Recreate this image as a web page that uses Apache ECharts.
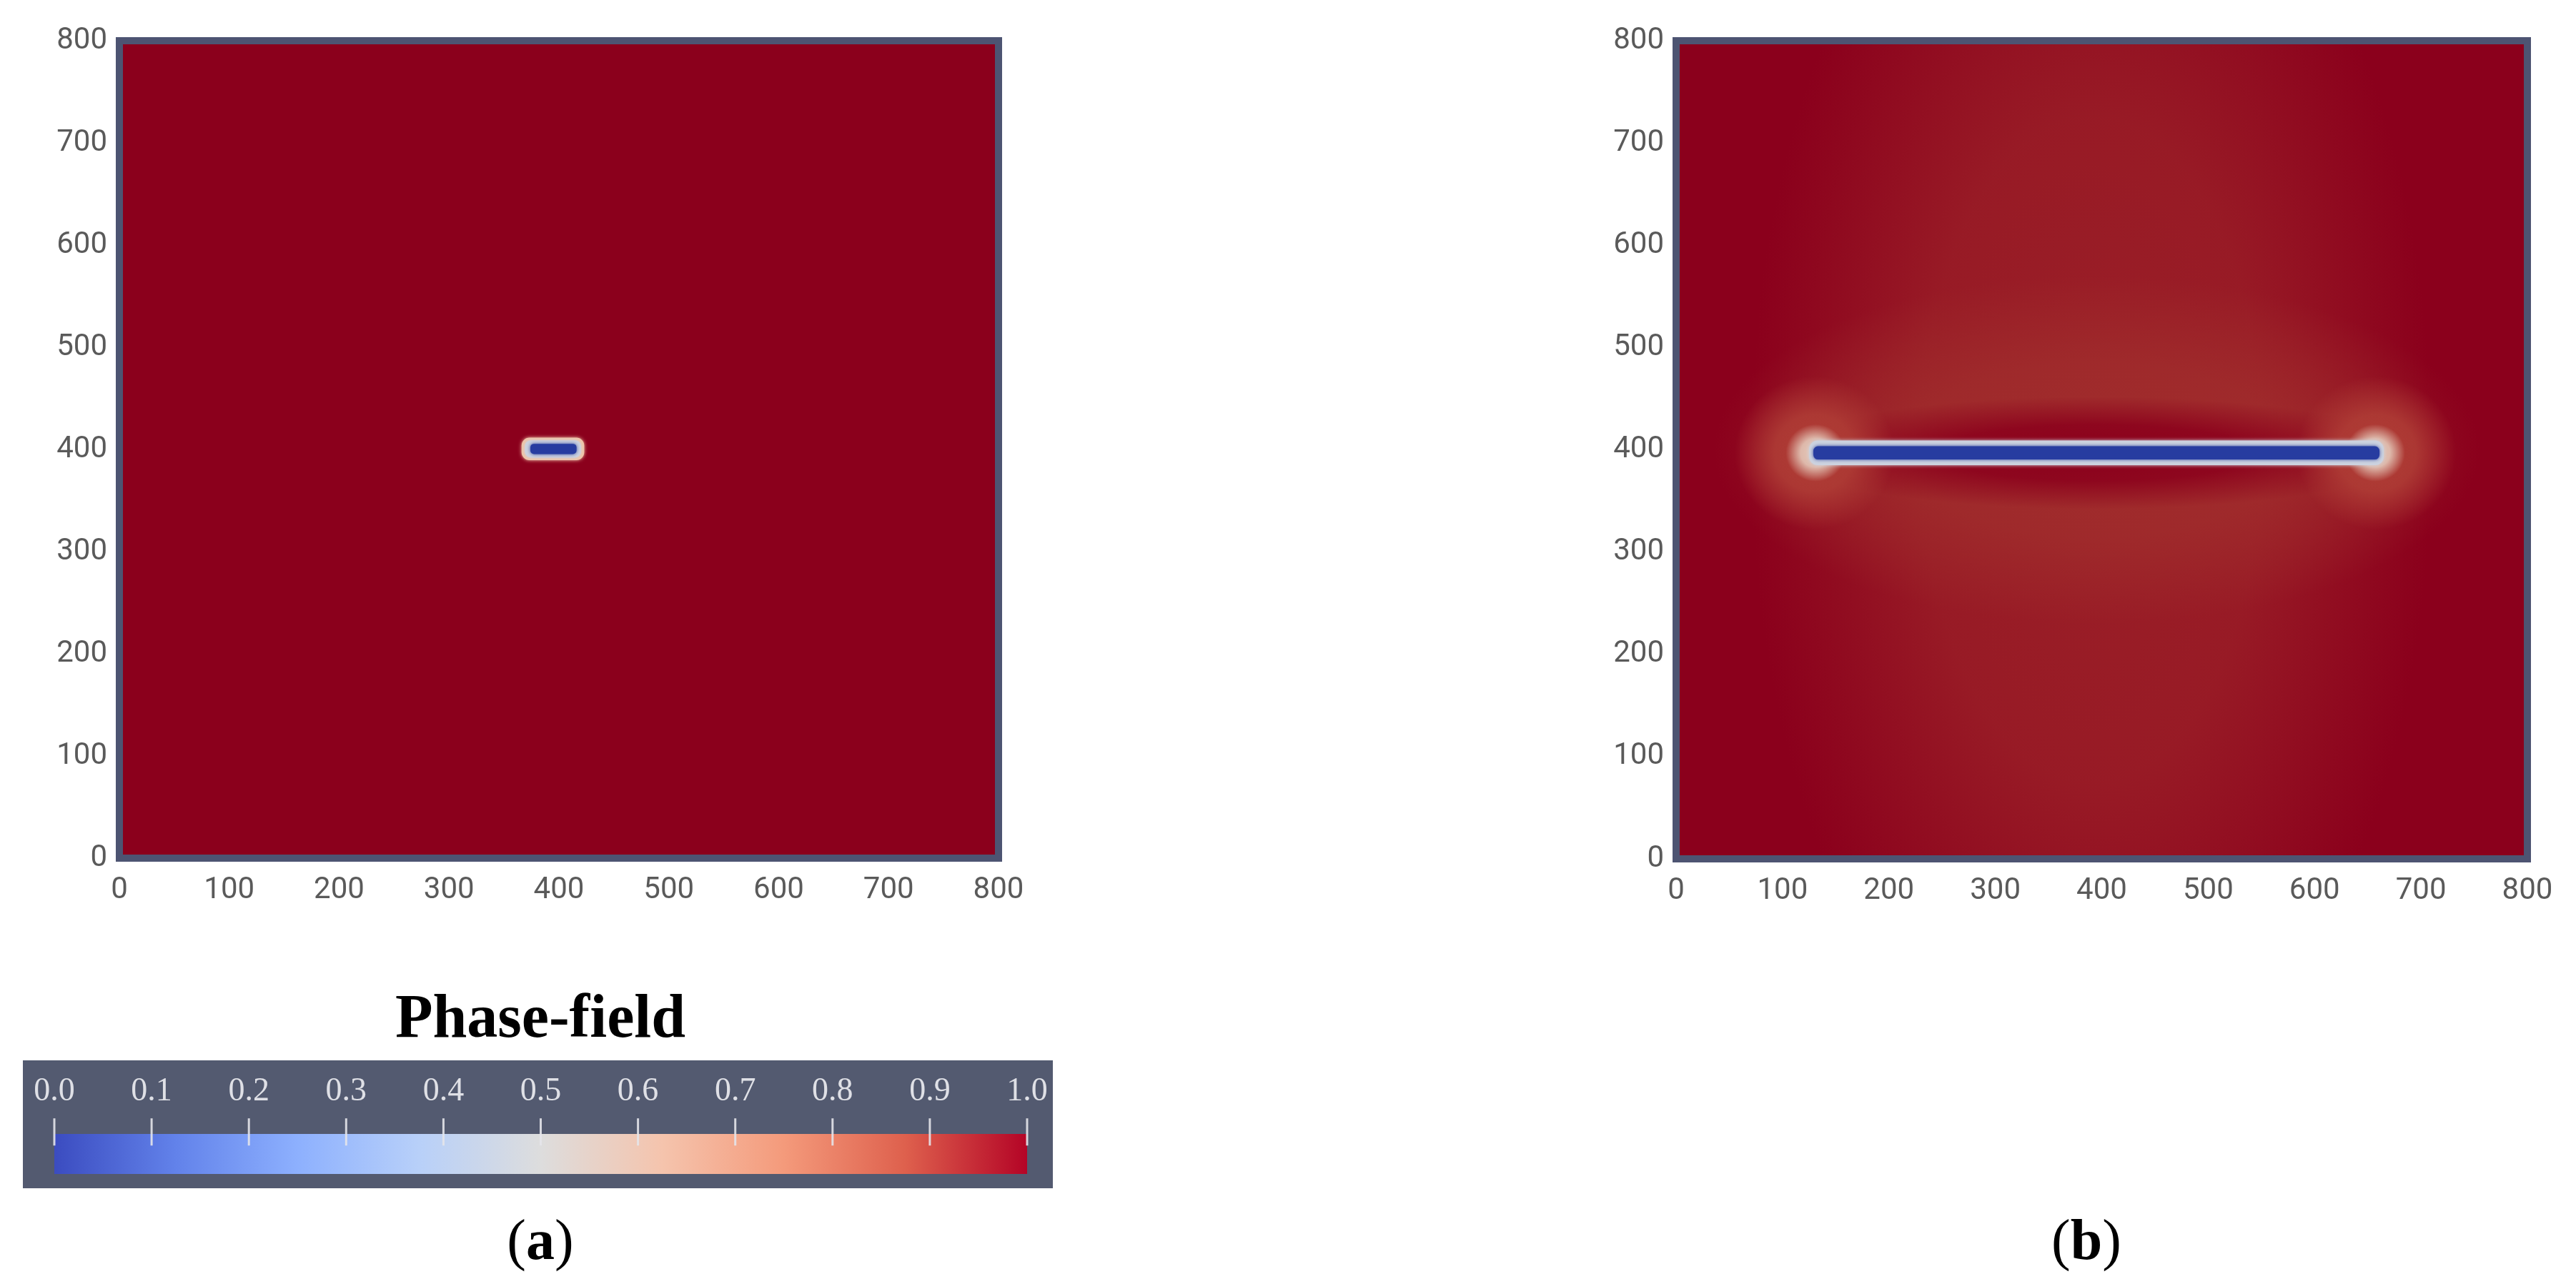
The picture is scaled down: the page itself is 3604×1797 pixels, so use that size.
<!DOCTYPE html>
<html>
<head>
<meta charset="utf-8">
<script src="https://cdn.jsdelivr.net/npm/echarts@6/dist/echarts.min.js"></script>
<style>
  html, body { margin: 0; padding: 0; background: #fff; }
  #chart { width: 3604px; height: 1797px; }
</style>
</head>
<body>
<div id="chart"></div>
<script>
// domain ticks (both axes, both panels)
const axisTicks = [0, 100, 200, 300, 400, 500, 600, 700, 800]
// colour bar ticks
const scaleTicks = [0.0, 0.1, 0.2, 0.3, 0.4, 0.5, 0.6, 0.7, 0.8, 0.9, 1.0]

// bands: [x start, x end, y centre, half thickness, phase]
const intact = [[0, 800, 400, 400, 1.0]]
const crackA = [
  [366, 423, 400.5, 11, 0.6],
  [369, 420, 400.5, 8.5, 0.45],
  [374, 416, 400.5, 5, 0.03]
]
// soft patches: [x centre, y centre, x radius, y radius, phase]
const glowB = [
  [390, 400, 320, 650, 0.93],
  [395, 400, 360, 170, 0.9],
  [395, 397, 300, 55, 1.0],
  [130, 397, 75, 75, 0.86],
  [658, 397, 75, 75, 0.86],
  [131, 397, 28, 28, 0.55],
  [657, 397, 28, 28, 0.55]
]
const crackB = [
  [125, 665, 397, 12, 0.45],
  [129, 661, 397, 6.5, 0.03]
]

const fieldColors = ['#22379a', '#3249ad', '#5a78cc', '#8aa6e0', '#bccbe6', '#dcd8d8',
  '#f0c4a6', '#e49a78', '#c85a46', '#a02c2c', '#8b001c']
const barColors = ['#3b4cc0', '#6282ea', '#8db0fe', '#b8d0f9', '#dddddd',
  '#f5c4ad', '#f49a7b', '#de604d', '#b40426']

const chart = echarts.init(document.getElementById('chart'), null, { renderer: 'canvas' })

const labelFont = 'Roboto, "DejaVu Sans", sans-serif'
const frameColor = '#4d5472'

const renderBand = (params, api) => {
  const yc = api.value(2), half = api.value(3)
  const p0 = api.coord([api.value(0), yc + half])
  const p1 = api.coord([api.value(1), yc - half])
  const w = p1[0] - p0[0], h = p1[1] - p0[1]
  const color = api.visual('color')
  const thin = half < 100
  return {
    type: 'rect',
    shape: { x: p0[0], y: p0[1], width: w, height: h, r: thin ? Math.min(w, h) * 0.35 : 0 },
    style: { fill: color, shadowBlur: thin ? 5 : 0, shadowColor: color }
  }
}

const renderGlow = (params, api) => {
  const c = api.coord([api.value(0), api.value(1)])
  const s = api.size([api.value(2), api.value(3)])
  const color = api.visual('color')
  const fade = a => echarts.color.modifyAlpha(color, a)
  const cs = params.coordSys
  return {
    type: 'group',
    clipPath: { type: 'rect', shape: { x: cs.x, y: cs.y, width: cs.width, height: cs.height } },
    children: [{
      type: 'circle',
      shape: { cx: c[0], cy: c[1], r: s[0] },
      scaleY: s[1] / s[0],
      originX: c[0],
      originY: c[1],
      style: {
        fill: new echarts.graphic.RadialGradient(0.5, 0.5, 0.5, [
          { offset: 0, color: fade(1) },
          { offset: 0.5, color: fade(0.85) },
          { offset: 0.85, color: fade(0.25) },
          { offset: 1, color: fade(0) }
        ])
      }
    }]
  }
}

const renderBar = (params, api) => {
  const p0 = api.coord([api.value(0), 1])
  const p1 = api.coord([api.value(1), 0])
  return {
    type: 'rect',
    shape: { x: p0[0], y: p0[1], width: p1[0] - p0[0], height: p1[1] - p0[1] },
    style: {
      fill: new echarts.graphic.LinearGradient(0, 0, 1, 0,
        barColors.map((c, i) => ({ offset: i / (barColors.length - 1), color: c })))
    }
  }
}

// colour bar tick marks: cross the upper edge of the bar
const renderTick = (params, api) => {
  const top = api.coord([api.value(0), 1.39])
  const bottom = api.coord([api.value(0), 0.71])
  return {
    type: 'line',
    shape: { x1: top[0], y1: top[1], x2: bottom[0], y2: bottom[1] },
    style: { stroke: '#e4e4ea', lineWidth: 3, opacity: 0.9 }
  }
}

const domainAxis = (gridIndex, isX) => ({
  type: 'value',
  gridIndex,
  min: axisTicks[0],
  max: axisTicks[axisTicks.length - 1],
  interval: axisTicks[1] - axisTicks[0],
  axisLine: { show: false },
  axisTick: { show: false },
  splitLine: { show: false },
  axisLabel: {
    color: '#5a5a5a',
    fontSize: 42,
    fontFamily: labelFont,
    margin: isX ? 24 : 17
  }
})

const option = {
  backgroundColor: '#ffffff',
  animation: false,
  grid: [
    { left: 167, top: 57, width: 1230, height: 1144, show: true, z: 5,
      backgroundColor: 'transparent', borderColor: frameColor, borderWidth: 10 },
    { left: 2345, top: 57, width: 1191, height: 1145, show: true, z: 5,
      backgroundColor: 'transparent', borderColor: frameColor, borderWidth: 10 },
    { left: 76, top: 1587, width: 1361, height: 56 }
  ],
  xAxis: [
    domainAxis(0, true),
    domainAxis(1, true),
    {
      type: 'value',
      gridIndex: 2,
      position: 'top',
      offset: -16,
      z: 10,
      min: scaleTicks[0],
      max: scaleTicks[scaleTicks.length - 1],
      interval: 0.1,
      axisLine: { show: false },
      axisTick: { show: false },
      splitLine: { show: false },
      axisLabel: {
        color: '#dfe0e6',
        fontSize: 46,
        fontFamily: '"Liberation Serif", serif',
        margin: 52,
        formatter: v => v.toFixed(1)
      }
    }
  ],
  yAxis: [
    domainAxis(0, false),
    domainAxis(1, false),
    { type: 'value', gridIndex: 2, min: 0, max: 1, show: false }
  ],
  visualMap: [{
    type: 'continuous',
    show: false,
    seriesIndex: [0, 1, 2, 3, 4],
    dimension: 4,
    min: 0,
    max: 1,
    inRange: { color: fieldColors }
  }],
  graphic: [
    { type: 'rect', left: 32, top: 1484, z: 0,
      shape: { width: 1441, height: 179 }, style: { fill: '#535a70' } },
    { type: 'text', x: 756, y: 1429, z: 10,
      style: { text: 'Phase-field', fill: '#000', font: 'bold 86px "Liberation Serif", serif',
        textAlign: 'center', textVerticalAlign: 'middle' } },
    { type: 'text', x: 756, y: 1741, z: 10,
      style: { text: '{p|(}{b|a}{p|)}', textAlign: 'center', textVerticalAlign: 'middle',
        rich: {
          p: { fontFamily: '"Liberation Serif", serif', fontSize: 80, fill: '#000' },
          b: { fontFamily: '"Liberation Serif", serif', fontSize: 80, fontWeight: 'bold', fill: '#000' }
        } } },
    { type: 'text', x: 2919, y: 1741, z: 10,
      style: { text: '{p|(}{b|b}{p|)}', textAlign: 'center', textVerticalAlign: 'middle',
        rich: {
          p: { fontFamily: '"Liberation Serif", serif', fontSize: 80, fill: '#000' },
          b: { fontFamily: '"Liberation Serif", serif', fontSize: 80, fontWeight: 'bold', fill: '#000' }
        } } }
  ],
  series: [
    { type: 'custom', xAxisIndex: 0, yAxisIndex: 0, z: 1, clip: true, data: intact, renderItem: renderBand },
    { type: 'custom', xAxisIndex: 0, yAxisIndex: 0, z: 3, clip: true, data: crackA, renderItem: renderBand },
    { type: 'custom', xAxisIndex: 1, yAxisIndex: 1, z: 1, clip: true, data: intact, renderItem: renderBand },
    { type: 'custom', xAxisIndex: 1, yAxisIndex: 1, z: 2, clip: true, data: glowB, renderItem: renderGlow },
    { type: 'custom', xAxisIndex: 1, yAxisIndex: 1, z: 3, clip: true, data: crackB, renderItem: renderBand },
    { type: 'custom', xAxisIndex: 2, yAxisIndex: 2, z: 2,
      data: [[scaleTicks[0], scaleTicks[scaleTicks.length - 1]]], renderItem: renderBar },
    { type: 'custom', xAxisIndex: 2, yAxisIndex: 2, z: 4, clip: false,
      data: scaleTicks.map(v => [v]), renderItem: renderTick }
  ]
}

chart.setOption(option)

window.addEventListener('resize', () => chart.resize())
</script>
</body>
</html>
